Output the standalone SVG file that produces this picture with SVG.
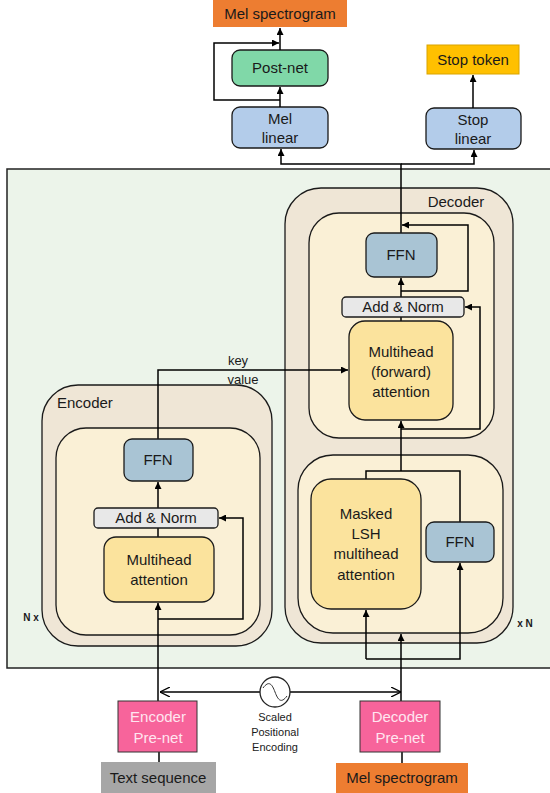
<svg xmlns="http://www.w3.org/2000/svg" width="550" height="793" viewBox="0 0 550 793">
<defs>
<marker id="ah" viewBox="0 0 10 10" refX="10" refY="5" markerWidth="7" markerHeight="7" markerUnits="userSpaceOnUse" orient="auto"><path d="M0,0 L10,5 L0,10 z" fill="#000"/></marker>
<marker id="oa" viewBox="0 0 10 10" refX="10" refY="5" markerWidth="10" markerHeight="10" markerUnits="userSpaceOnUse" orient="auto"><path d="M0,0 L10,5 L0,10" fill="none" stroke="#000" stroke-width="1.3"/></marker>
<style>
.t{font-family:"Liberation Sans",Arial,sans-serif;font-size:15px;fill:#1a1a1a;text-anchor:middle}
.s{font-size:11px}
.b{stroke:#1a1a1a;stroke-width:1.3}
.ln{fill:none;stroke:#000;stroke-width:1.5}
.ar{marker-end:url(#ah)}
</style>
</defs>
<rect x="7" y="169" width="545" height="499" fill="#ECF4EA" stroke="#222" stroke-width="1.5"/>

<g id="outputs">
<rect x="213" y="0" width="134" height="27" fill="#ED7D31"/>
<text class="t" x="280" y="19">Mel spectrogram</text>
<rect x="427" y="45" width="92" height="29" fill="#FFC000" stroke="#D9A400"/>
<text class="t" x="473" y="65">Stop token</text>
</g>
<g id="postnet"><rect class="b" x="232" y="50" width="96" height="36" rx="8" fill="#80D8A8"/><text class="t" x="280" y="73">Post-net</text></g>
<g id="mellinear"><rect class="b" x="232" y="107" width="96" height="41" rx="8" fill="#B3CCEA"/><text class="t" x="280" y="124">Mel</text><text class="t" x="280" y="143">linear</text></g>
<g id="stoplinear"><rect class="b" x="426" y="108" width="95" height="41" rx="8" fill="#B3CCEA"/><text class="t" x="473" y="125">Stop</text><text class="t" x="473" y="144">linear</text></g>

<g id="decoder">
<rect class="b" x="285" y="188" width="228" height="455" rx="36" fill="#EFE6D6"/>
<text class="t" x="456" y="207">Decoder</text>
<rect class="b" x="309" y="213" width="185" height="225" rx="30" fill="#FAF0D6"/>
<rect class="b" x="298" y="455" width="205" height="178" rx="35" fill="#FAF0D6"/>
<text class="t" x="525" y="627" style="font-size:10px;font-weight:bold">x N</text>
</g>
<g id="encoder">
<rect class="b" x="42" y="385" width="230" height="261" rx="36" fill="#EFE6D6"/>
<text class="t" x="57" y="408" style="text-anchor:start">Encoder</text>
<rect class="b" x="56" y="428" width="204" height="207" rx="30" fill="#FAF0D6"/>
<text class="t" x="31" y="621" style="font-size:10px;font-weight:bold">N x</text>
</g>

<g id="connectors">
<path class="ln ar" d="M280,50 V28"/>
<path class="ln ar" d="M280,100 H214 V43 H279"/>
<path class="ln ar" d="M280,107 V87"/>
<path class="ln ar" d="M473,108 V75"/>
<path class="ln ar" d="M401,233 V164 H281 V149"/>
<path class="ln ar" d="M401,164 H474 V150"/>
<path class="ln ar" d="M401,291 H468 V225 H402"/>
<path class="ln ar" d="M401,297 V278"/>
<path class="ln" d="M401,317 V321"/>
<path class="ln ar" d="M401,429 H480 V307 H465"/>
<path class="ln ar" d="M401,471 V421"/>
<path class="ln" d="M366,479 V471 H460 V522"/>
<path class="ln ar" d="M401,701 V634"/>
<path class="ln ar" d="M366,659 V610"/>
<path class="ln ar" d="M366,659 H460 V563"/>
<path class="ln ar" d="M158,439 V370 H348"/>
<text class="t" x="238" y="365" style="font-size:13px">key</text>
<text class="t" x="243" y="384" style="font-size:13px">value</text>
<path class="ln ar" d="M158,508 V482"/>
<path class="ln" d="M158,528 V537"/>
<path class="ln ar" d="M158,701 V603"/>
<path class="ln ar" d="M158,619 H243 V518 H219"/>
<path class="ln" d="M159,752 V762"/>
<path class="ln" d="M402,752 V763"/>
<path class="ln" d="M260,692 H160" marker-end="url(#oa)"/>
<path class="ln" d="M290,692 H401" marker-end="url(#oa)"/>
</g>

<g id="dec-ffn-top"><rect class="b" x="366" y="233" width="71" height="44" rx="8" fill="#A9C4D4"/><text class="t" x="401" y="260">FFN</text></g>
<g id="dec-addnorm"><rect class="b" x="342" y="297" width="122" height="20" rx="4" fill="#E8E8E8"/><text class="t" x="403" y="312">Add &amp; Norm</text></g>
<g id="dec-mha"><rect class="b" x="349" y="321" width="104" height="99" rx="16" fill="#FBE39D"/><text class="t" x="401" y="357">Multihead</text><text class="t" x="401" y="377">(forward)</text><text class="t" x="401" y="397">attention</text></g>
<g id="dec-lsh"><rect class="b" x="311" y="479" width="110" height="130" rx="20" fill="#FBE39D"/><text class="t" x="366" y="519">Masked</text><text class="t" x="366" y="539">LSH</text><text class="t" x="366" y="559">multihead</text><text class="t" x="366" y="580">attention</text></g>
<g id="dec-ffn-low"><rect class="b" x="426" y="522" width="68" height="40" rx="8" fill="#A9C4D4"/><text class="t" x="460" y="547">FFN</text></g>
<g id="enc-ffn"><rect class="b" x="124" y="439" width="69" height="42" rx="8" fill="#A9C4D4"/><text class="t" x="158" y="465">FFN</text></g>
<g id="enc-addnorm"><rect class="b" x="94" y="508" width="124" height="20" rx="4" fill="#E8E8E8"/><text class="t" x="156" y="523">Add &amp; Norm</text></g>
<g id="enc-mha"><rect class="b" x="104" y="537" width="110" height="65" rx="12" fill="#FBE39D"/><text class="t" x="159" y="565">Multihead</text><text class="t" x="159" y="585">attention</text></g>

<g id="posenc">
<circle cx="275" cy="692" r="15" fill="#fff" stroke="#222" stroke-width="1.3"/>
<path d="M263,688 C269,680 272,684 275,692 C278,700 281,704 287,696" fill="none" stroke="#333" stroke-width="1"/>
<text class="t s" x="275" y="721">Scaled</text>
<text class="t s" x="275" y="736">Positional</text>
<text class="t s" x="275" y="751">Encoding</text>
</g>
<g id="enc-prenet"><rect x="118" y="701" width="79" height="51" fill="#F7649B" stroke="#333" stroke-width="1"/><text class="t" x="158" y="722" style="fill:#FFE6F0">Encoder</text><text class="t" x="158" y="743" style="fill:#FFE6F0">Pre-net</text></g>
<g id="dec-prenet"><rect x="360" y="701" width="80" height="51" fill="#F7649B" stroke="#333" stroke-width="1"/><text class="t" x="400" y="722" style="fill:#FFE6F0">Decoder</text><text class="t" x="400" y="743" style="fill:#FFE6F0">Pre-net</text></g>
<g id="text-seq"><rect x="101" y="762" width="115" height="31" fill="#A6A6A6"/><text class="t" x="158" y="783">Text sequence</text></g>
<g id="mel-in"><rect x="336" y="763" width="132" height="30" fill="#ED7D31"/><text class="t" x="402" y="783">Mel spectrogram</text></g>
</svg>
